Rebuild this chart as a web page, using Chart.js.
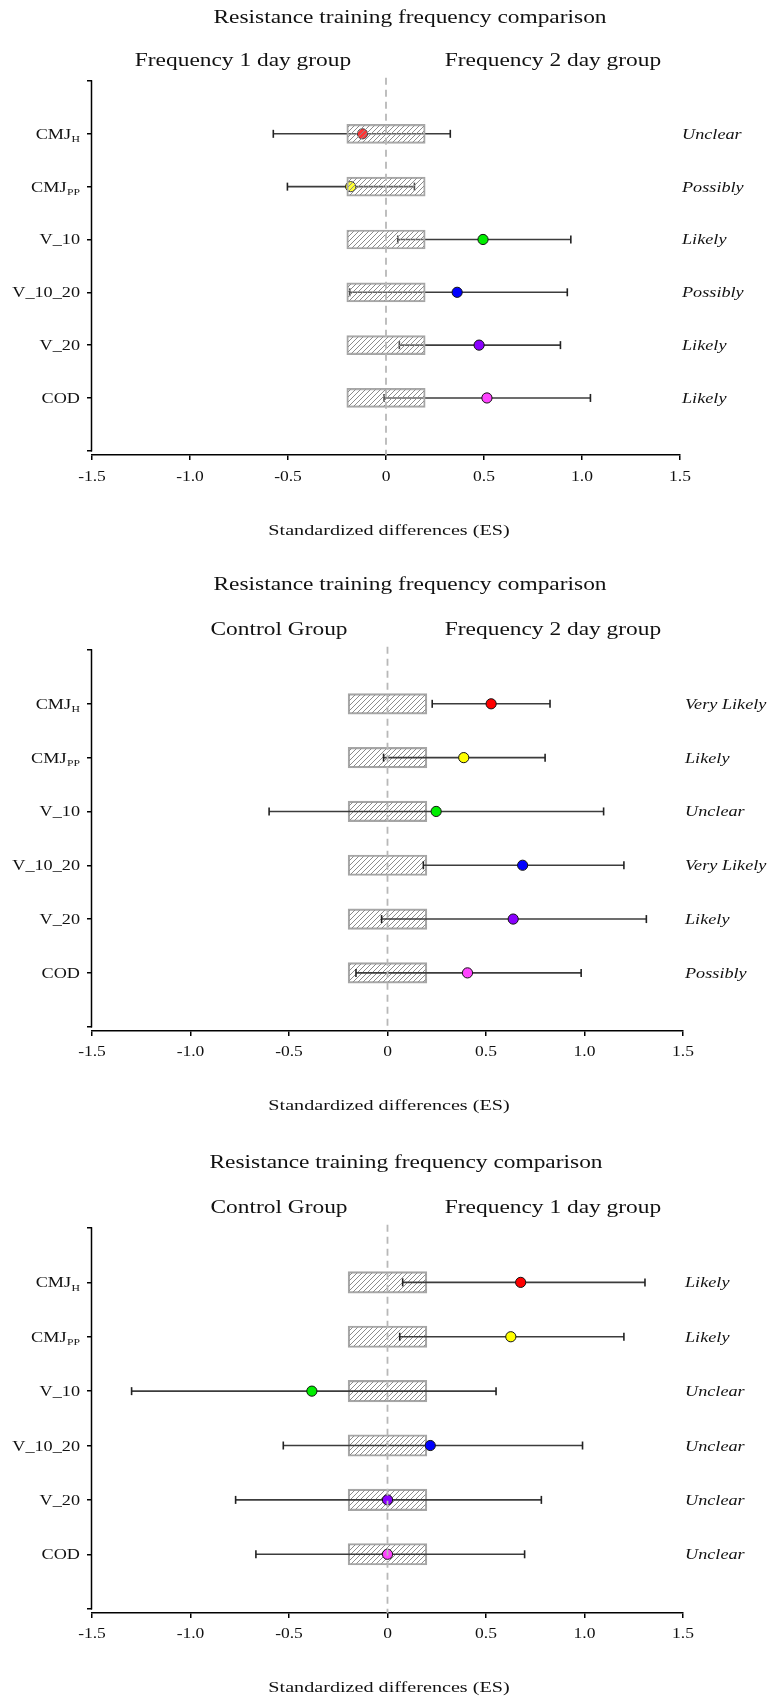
<!DOCTYPE html>
<html><head><meta charset="utf-8">
<script src="https://cdn.jsdelivr.net/npm/chart.js@4.4.1/dist/chart.umd.min.js"></script>
<style>
html,body{margin:0;padding:0;background:#fff;}
body{width:772px;height:1697px;position:relative;overflow:hidden;}
canvas{position:absolute;left:0;}
</style></head><body>
<canvas id="c1" width="772" height="565" style="top:0px"></canvas>
<canvas id="c2" width="772" height="570" style="top:565px"></canvas>
<canvas id="c3" width="772" height="562" style="top:1135px"></canvas>
<script>
// ---------- DATA ----------
const categories = ['CMJ_H','CMJ_PP','V_10','V_10_20','V_20','COD'];
const catMain = ['CMJ','CMJ','V_10','V_10_20','V_20','COD'];
const catSub = ['H','PP','','','',''];
const pointColors = ['#ff0000','#ffff00','#00ee00','#0000ff','#8a00ff','#ff44ff'];
const xTickValues = [-1.5,-1,-0.5,0,0.5,1,1.5];
const xTickLabels = ['-1.5','-1.0','-0.5','0','0.5','1.0','1.5'];
const chartTitle = 'Resistance training frequency comparison';
const xAxisTitle = 'Standardized differences (ES)';
const trivialRange = [-0.2, 0.2];
const refValue = 0;

// Panel 1: Frequency 1 day vs Frequency 2 day
const p1Groups = ['Frequency 1 day group','Frequency 2 day group'];
const p1ES = [-0.12, -0.18, 0.495, 0.363, 0.475, 0.515];
const p1Lo = [-0.575, -0.503, 0.06, -0.185, 0.068, -0.01];
const p1Hi = [0.328, 0.145, 0.943, 0.925, 0.89, 1.043];
const p1Qual = ['Unclear','Possibly','Likely','Possibly','Likely','Likely'];

// Panel 2: Control vs Frequency 2 day
const p2Groups = ['Control Group','Frequency 2 day group'];
const p2ES = [0.526, 0.387, 0.247, 0.686, 0.638, 0.406];
const p2Lo = [0.227, -0.02, -0.601, 0.182, -0.03, -0.16];
const p2Hi = [0.825, 0.80, 1.097, 1.2, 1.314, 0.983];
const p2Qual = ['Very Likely','Likely','Unclear','Very Likely','Likely','Possibly'];

// Panel 3: Control vs Frequency 1 day
const p3Groups = ['Control Group','Frequency 1 day group'];
const p3ES = [0.676, 0.626, -0.384, 0.217, 0.0, 0.0];
const p3Lo = [0.077, 0.062, -1.299, -0.529, -0.771, -0.668];
const p3Hi = [1.307, 1.2, 0.551, 0.99, 0.781, 0.696];
const p3Qual = ['Likely','Likely','Unclear','Unclear','Unclear','Unclear'];

// ---------- LAYOUT / STYLE ----------
const layouts = [
  {id:'c1', H:565, padTop:81, xAxisY:455, left:92, right:680, titleX:410, titleBase:23, subLX:243, subRX:553, subBase:66,
   labelRight:80, qualX:682, tickBase:481, axisTitleX:389, axisTitleBase:535, boxH:19, boxOnTop:true},
  {id:'c2', H:570, padTop:85, xAxisY:466, left:92, right:683, titleX:410, titleBase:25, subLX:279, subRX:553, subBase:70,
   labelRight:80, qualX:685, tickBase:491, axisTitleX:389, axisTitleBase:545, boxH:20.5, boxOnTop:false},
  {id:'c3', H:562, padTop:93, xAxisY:478, left:92, right:683, titleX:406, titleBase:33, subLX:279, subRX:553, subBase:78,
   labelRight:80, qualX:685, tickBase:503, axisTitleX:389, axisTitleBase:557, boxH:21.5, boxOnTop:false}
];
const panels = [
  {groups:p1Groups, es:p1ES, lo:p1Lo, hi:p1Hi, qual:p1Qual},
  {groups:p2Groups, es:p2ES, lo:p2Lo, hi:p2Hi, qual:p2Qual},
  {groups:p3Groups, es:p3ES, lo:p3Lo, hi:p3Hi, qual:p3Qual}
];
const FONT = '"Liberation Serif", "Times New Roman", serif';

function txt(ctx, s, x, y, size, opts) {
  opts = opts || {};
  ctx.save();
  ctx.font = (opts.italic ? 'italic ' : '') + size + 'px ' + FONT;
  ctx.fillStyle = '#111';
  ctx.textBaseline = 'alphabetic';
  ctx.textAlign = 'left';
  const sx = opts.stretch || 1.3;
  const w = ctx.measureText(s).width * sx;
  let x0 = x;
  if (opts.align === 'center') x0 = x - w / 2;
  else if (opts.align === 'right') x0 = x - w;
  ctx.translate(x0, y);
  ctx.scale(sx, 1);
  ctx.fillText(s, 0, 0);
  ctx.restore();
  return w;
}

function hatch(ctx, bg) {
  const c = document.createElement('canvas');
  c.width = 5; c.height = 5;
  const g = c.getContext('2d');
  if (bg) { g.fillStyle = bg; g.fillRect(0, 0, 5, 5); }
  g.strokeStyle = '#8c8c8c';
  g.lineWidth = 1;
  g.beginPath();
  g.moveTo(0, 5); g.lineTo(5, 0);
  g.moveTo(-1, 1); g.lineTo(1, -1);
  g.moveTo(4, 6); g.lineTo(6, 4);
  g.stroke();
  return ctx.createPattern(c, 'repeat');
}

const textPlugin = {
  id: 'texts',
  afterDraw(chart, args, o) {
    const ctx = chart.ctx, xs = chart.scales.x, ys = chart.scales.y, L = o.L, P = o.P;
    ctx.save();
    ctx.strokeStyle = '#000'; ctx.lineWidth = 1.5;
    const ax = chart.chartArea.left - 0.5;
    ctx.beginPath();
    ctx.moveTo(ax, ys.getPixelForValue(0) - 0.75);
    ctx.lineTo(ax, ys.getPixelForValue(7) + 0.75);
    ctx.stroke();
    ctx.restore();

    txt(ctx, chartTitle, L.titleX, L.titleBase, 18, {align:'center'});
    txt(ctx, P.groups[0], L.subLX, L.subBase, 18, {align:'center'});
    txt(ctx, P.groups[1], L.subRX, L.subBase, 18, {align:'center'});

    categories.forEach((c, i) => {
      const y = ys.getPixelForValue(i + 1) + 5;
      let right = L.labelRight;
      if (catSub[i]) {
        const w = txt(ctx, catSub[i], right, y + 3.5, 9, {align:'right'});
        right -= w + 0.5;
      }
      txt(ctx, catMain[i], right, y, 14, {align:'right'});
      txt(ctx, P.qual[i], L.qualX, y, 14, {italic:true});
    });

    xTickValues.forEach((v, i) => {
      txt(ctx, xTickLabels[i], xs.getPixelForValue(v), L.tickBase, 14, {align:'center', stretch:1.25});
    });
    txt(ctx, xAxisTitle, L.axisTitleX, L.axisTitleBase, 15.5, {align:'center'});
  }
};

function makeChart(L, P) {
  const canvas = document.getElementById(L.id);
  const ctx = canvas.getContext('2d');
  const rows = categories.map((c, i) => i + 1);
  const datasets = [];
  datasets.push({
    type: 'bar', indexAxis: 'y',
    data: rows.map(r => ({x: trivialRange.slice(), y: r})),
    backgroundColor: hatch(ctx, L.boxOnTop ? 'rgba(255,255,255,0.2)' : null),
    borderColor: '#a6a6a6', borderWidth: 1.5, borderSkipped: false,
    barThickness: L.boxH, order: L.boxOnTop ? 1 : 5
  });
  rows.forEach((r, i) => {
    datasets.push({
      type: 'scatter',
      data: [{x: P.lo[i], y: r}, {x: P.hi[i], y: r}],
      showLine: true, borderColor: '#3c3c3c', borderWidth: 1.6,
      pointStyle: 'line', rotation: 90, pointRadius: 4, pointHoverRadius: 4,
      pointBorderColor: '#222', pointBorderWidth: 1.6, order: 3
    });
  });
  datasets.push({
    type: 'scatter',
    data: rows.map((r, i) => ({x: P.es[i], y: r})),
    pointRadius: 5.1, pointHoverRadius: 5.1,
    pointBackgroundColor: pointColors, pointBorderColor: '#111', pointBorderWidth: 1, order: 2
  });
  datasets.push({
    type: 'scatter',
    data: [{x: refValue, y: -0.06}, {x: refValue, y: 7.08}],
    showLine: true, borderColor: '#b8b8b8', borderWidth: 1.8, borderDash: [7, 5],
    pointRadius: 0, clip: false, order: 0
  });

  return new Chart(ctx, {
    type: 'scatter',
    data: {datasets},
    plugins: [textPlugin],
    options: {
      responsive: false, animation: false, events: [],
      layout: {padding: {top: L.padTop, right: 772 - L.right, bottom: 0, left: 0}, autoPadding: false},
      plugins: {legend: {display: false}, tooltip: {enabled: false}, title: {display: false}, texts: {L, P}},
      scales: {
        x: {
          type: 'linear', min: -1.5, max: 1.5, offset: false, beginAtZero: false,
          afterBuildTicks: s => { s.ticks = xTickValues.map(v => ({value: v})); },
          afterFit: s => { s.height = L.H - L.xAxisY; },
          ticks: {display: false},
          grid: {offset: false, drawOnChartArea: false, drawTicks: true, tickLength: 5, color: '#000', lineWidth: 1.5},
          border: {display: true, color: '#000', width: 1.5}
        },
        y: {
          type: 'linear', reverse: true, min: 0, max: 7.08, offset: false,
          afterBuildTicks: s => { s.ticks = [0,1,2,3,4,5,6,7].map(v => ({value: v})); },
          afterFit: s => { s.width = L.left; },
          ticks: {display: false},
          grid: {offset: false, drawOnChartArea: false, drawTicks: true, tickLength: 5, color: '#000', lineWidth: 1.5},
          border: {display: false}
        }
      }
    }
  });
}

layouts.forEach((L, k) => makeChart(L, panels[k]));
</script>
</body></html>
